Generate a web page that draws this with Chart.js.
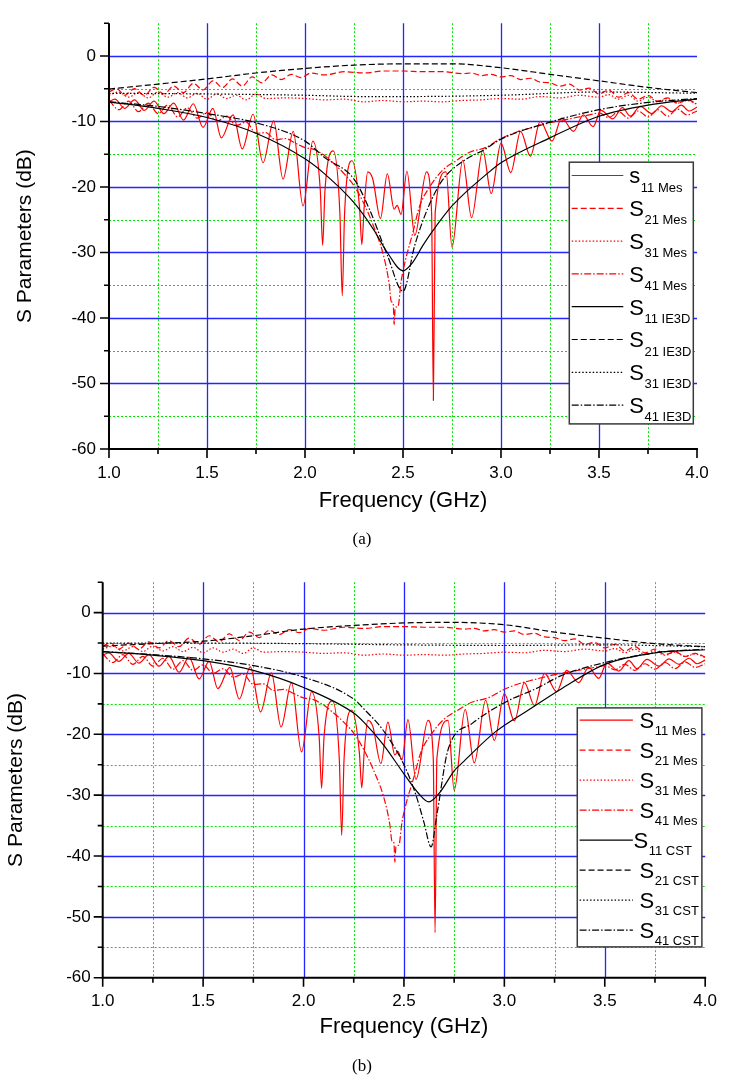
<!DOCTYPE html>
<html><head><meta charset="utf-8">
<script src="https://cdn.jsdelivr.net/npm/chart.js@4.4.1/dist/chart.umd.min.js"></script>
<style>
html,body{margin:0;padding:0;background:#fff;width:730px;height:1079px;overflow:hidden;position:relative}
canvas{position:absolute;left:0}
#cA{top:0}
#cB{top:560px}
.cap{position:absolute;font-family:'Liberation Serif','Times New Roman',serif;font-size:17px;color:#000;transform:translate(-50%,-50%);white-space:nowrap}
</style></head><body>
<canvas id="cA" width="730" height="560"></canvas>
<canvas id="cB" width="730" height="519"></canvas>
<div class="cap" style="left:362px;top:539px">(a)</div>
<div class="cap" style="left:362px;top:1066px">(b)</div>
<script>
const FONT = "'Liberation Sans', Arial, Helvetica, sans-serif";

// ---- axis ticks ----
const xTicks = [1.0, 1.5, 2.0, 2.5, 3.0, 3.5, 4.0];
const xMinorTicks = [1.25, 1.75, 2.25, 2.75, 3.25, 3.75];
const yTicks = [-60, -50, -40, -30, -20, -10, 0];
const yMinorTicks = [-55, -45, -35, -25, -15, -5, 5];

// ---- measured data [GHz, dB] ----
const s11Mes = [[1.00,-7.0],[1.03,-6.6],[1.08,-8.0],[1.13,-6.7],[1.18,-8.3],[1.23,-6.9],[1.28,-8.8],[1.33,-7.2],[1.38,-9.8],[1.43,-7.3],[1.48,-10.9],[1.53,-8.0],[1.573,-12.5],[1.633,-9.0],[1.68,-14.2],[1.735,-8.9],[1.786,-16.3],[1.84,-9.9],[1.888,-18.8],[1.94,-11.5],[1.99,-22.9],[2.04,-13.0],[2.078,-20.5],[2.09,-28.9],[2.102,-20.5],[2.144,-14.5],[2.178,-24.0],[2.19,-36.6],[2.202,-24.0],[2.24,-16.0],[2.278,-23.0],[2.29,-28.8],[2.302,-23.0],[2.32,-17.7],[2.345,-18.7],[2.385,-24.8],[2.42,-18.0],[2.455,-23.4],[2.47,-22.8],[2.49,-24.2],[2.52,-17.6],[2.56,-27.4],[2.62,-17.7],[2.646,-24.0],[2.655,-52.6],[2.664,-24.0],[2.72,-17.7],[2.75,-29.2],[2.805,-15.9],[2.85,-24.7],[2.907,-14.4],[2.95,-21.0],[3.00,-13.3],[3.05,-17.8],[3.10,-11.5],[3.15,-15.3],[3.20,-10.0],[3.26,-13.0],[3.31,-9.5],[3.37,-11.5],[3.42,-9.0],[3.47,-10.8],[3.51,-8.3],[3.57,-9.6],[3.62,-7.9],[3.66,-9.2],[3.71,-7.7],[3.77,-8.8],[3.82,-7.6],[3.87,-8.5],[3.92,-7.5],[3.96,-8.4],[4.00,-7.8]];
const s21Mes = [[1.00,-5.5],[1.04,-5.0],[1.08,-6.0],[1.13,-5.0],[1.18,-6.0],[1.23,-4.8],[1.28,-5.8],[1.33,-4.6],[1.38,-5.6],[1.43,-4.2],[1.48,-5.2],[1.53,-3.8],[1.58,-4.8],[1.63,-3.5],[1.68,-4.6],[1.73,-3.2],[1.78,-4.1],[1.83,-2.9],[1.88,-3.6],[1.93,-2.8],[1.98,-3.3],[2.03,-2.6],[2.10,-2.9],[2.20,-2.4],[2.30,-2.6],[2.40,-2.3],[2.50,-2.3],[2.60,-2.4],[2.70,-2.4],[2.80,-2.7],[2.85,-2.6],[2.90,-3.0],[2.95,-2.8],[3.00,-3.2],[3.05,-3.0],[3.10,-3.6],[3.15,-3.4],[3.20,-4.0],[3.25,-4.1],[3.30,-4.6],[3.35,-4.3],[3.40,-5.2],[3.45,-4.9],[3.50,-5.8],[3.55,-5.2],[3.60,-6.3],[3.65,-5.6],[3.70,-6.6],[3.75,-6.0],[3.80,-6.9],[3.85,-6.4],[3.90,-7.2],[3.95,-6.7],[4.00,-7.3]];
const s31Mes = [[1.00,-6.0],[1.05,-5.5],[1.10,-6.3],[1.15,-5.6],[1.20,-6.4],[1.25,-5.5],[1.30,-6.3],[1.35,-5.6],[1.40,-6.4],[1.45,-5.7],[1.50,-6.6],[1.55,-5.8],[1.60,-6.5],[1.65,-6.0],[1.70,-6.7],[1.75,-5.8],[1.80,-6.5],[1.90,-6.4],[2.00,-6.5],[2.10,-6.7],[2.20,-6.6],[2.30,-7.0],[2.40,-6.8],[2.50,-7.0],[2.60,-6.9],[2.70,-7.0],[2.80,-6.8],[2.90,-6.7],[3.00,-6.5],[3.10,-6.6],[3.20,-6.2],[3.30,-6.4],[3.40,-6.0],[3.50,-6.3],[3.55,-5.9],[3.60,-6.6],[3.65,-6.0],[3.70,-6.9],[3.75,-6.3],[3.80,-7.0],[3.85,-6.5],[3.90,-7.2],[3.95,-6.8],[4.00,-7.4]];
const s41Mes = [[1.00,-6.8],[1.05,-8.2],[1.10,-6.9],[1.15,-8.5],[1.20,-7.2],[1.25,-8.8],[1.30,-7.5],[1.35,-9.3],[1.40,-7.9],[1.45,-9.5],[1.50,-8.6],[1.55,-10.0],[1.60,-9.2],[1.65,-10.6],[1.70,-10.1],[1.75,-11.8],[1.80,-11.7],[1.85,-12.8],[1.90,-12.6],[1.95,-13.3],[2.00,-14.0],[2.05,-14.3],[2.10,-15.2],[2.15,-16.5],[2.20,-18.0],[2.25,-19.8],[2.30,-22.5],[2.35,-26.0],[2.40,-30.4],[2.43,-34.9],[2.44,-37.5],[2.45,-37.8],[2.455,-41.0],[2.46,-38.5],[2.475,-38.2],[2.49,-34.5],[2.51,-31.5],[2.55,-27.0],[2.585,-22.9],[2.636,-20.0],[2.70,-17.5],[2.77,-16.0],[2.84,-14.7],[2.92,-14.0],[3.00,-12.6],[3.08,-11.6],[3.15,-11.0],[3.25,-10.2],[3.35,-9.6],[3.45,-9.0],[3.50,-8.7],[3.55,-9.4],[3.60,-8.5],[3.65,-9.5],[3.70,-8.4],[3.75,-9.3],[3.80,-8.2],[3.85,-9.2],[3.90,-8.1],[3.95,-9.0],[4.00,-8.4]];

// ---- IE3D simulation (a) ----
const s11IE3D = [[1.00,-7.0],[1.25,-8.0],[1.50,-9.4],[1.75,-11.8],[2.00,-15.7],[2.10,-18.0],[2.25,-22.4],[2.35,-26.5],[2.42,-30.0],[2.50,-32.8],[2.55,-31.5],[2.60,-29.0],[2.64,-27.2],[2.75,-22.9],[2.94,-17.7],[3.00,-16.3],[3.25,-12.5],[3.50,-9.2],[3.75,-7.5],[4.00,-6.6]];
const s21IE3D = [[1.00,-5.05],[1.25,-4.3],[1.50,-3.5],[1.75,-2.6],[2.00,-1.9],[2.25,-1.4],[2.50,-1.2],[2.75,-1.2],[3.00,-1.8],[3.25,-2.8],[3.50,-3.8],[3.75,-4.8],[4.00,-5.6]];
const s31IE3D = [[1.00,-5.7],[1.50,-5.8],[2.00,-6.0],[2.30,-6.2],[2.50,-6.2],[3.00,-6.0],[3.50,-5.5],[4.00,-5.7]];
const s41IE3D = [[1.00,-7.0],[1.25,-7.7],[1.50,-8.8],[1.75,-10.2],[2.00,-13.0],[2.10,-15.5],[2.25,-18.8],[2.33,-23.5],[2.42,-30.4],[2.50,-35.9],[2.56,-28.9],[2.63,-23.0],[2.70,-19.0],[2.80,-16.2],[2.92,-14.2],[3.00,-12.7],[3.25,-10.1],[3.50,-8.2],[3.75,-7.1],[4.00,-6.5]];

// ---- CST simulation (b) ----
const s11CST = [[1.00,-6.4],[1.25,-7.0],[1.50,-7.9],[1.75,-9.5],[2.00,-12.3],[2.25,-16.5],[2.30,-18.0],[2.40,-21.8],[2.50,-26.5],[2.57,-29.6],[2.624,-31.1],[2.68,-29.5],[2.75,-26.0],[2.79,-24.7],[2.955,-19.6],[3.12,-16.0],[3.285,-12.5],[3.50,-8.5],[3.75,-6.6],[4.00,-6.1]];
const s21CST = [[1.00,-5.5],[1.25,-5.1],[1.50,-4.7],[1.75,-3.8],[2.00,-2.7],[2.25,-2.1],[2.50,-1.7],[2.75,-1.6],[3.00,-2.0],[3.25,-3.2],[3.50,-4.2],[3.75,-5.1],[4.00,-5.6]];
const s31CST = [[1.00,-5.0],[1.50,-5.0],[2.00,-5.1],[2.50,-5.3],[3.00,-5.4],[3.50,-5.3],[4.00,-5.6]];
const s41CST = [[1.00,-6.4],[1.25,-6.9],[1.50,-7.6],[1.75,-8.7],[2.00,-10.6],[2.25,-14.2],[2.30,-15.8],[2.40,-19.5],[2.50,-25.0],[2.56,-30.0],[2.60,-34.5],[2.635,-38.5],[2.665,-33.0],[2.72,-22.5],[2.84,-18.2],[3.00,-14.8],[3.17,-12.3],[3.28,-10.4],[3.50,-8.2],[3.75,-6.6],[4.00,-6.0]];

// ---- legend text ----
const legendMainA = ['s','S','S','S','S','S','S','S'];
const legendSubA = ['11 Mes','21 Mes','31 Mes','41 Mes','11 IE3D','21 IE3D','31 IE3D','41 IE3D'];
const legendMainB = ['S','S','S','S','S','S','S','S'];
const legendSubB = ['11 Mes','21 Mes','31 Mes','41 Mes','11 CST','21 CST','31 CST','41 CST'];

const DASH = { s11: [], s21: [6,3], s31: [1.5,2], s41: [7,2,1.5,2] };
const RED = '#ff0000', BLACK = '#000000';

function ds(pairs, color, dash, order) {
  return { data: pairs.map(p => ({x: p[0], y: p[1]})), borderColor: color, borderDash: dash,
    borderWidth: 1.2, pointRadius: 0, fill: false, cubicInterpolationMode: 'monotone', order: order };
}

const framePlugin = {
  id: 'sframe',
  beforeDatasetsDraw(chart, args, opts) {
    const {ctx, chartArea: a, scales: {x, y}} = chart;
    ctx.save();
    ctx.strokeStyle = '#00e600'; ctx.lineWidth = 1; ctx.setLineDash([2,2]);
    ctx.beginPath();
    xMinorTicks.forEach(v => { const p = Math.round(x.getPixelForValue(v)) + 0.5; ctx.moveTo(p, a.top); ctx.lineTo(p, a.bottom); });
    yMinorTicks.forEach(v => { if (v >= y.max || v <= y.min) return; const p = Math.round(y.getPixelForValue(v)) + 0.5; ctx.moveTo(a.left, p); ctx.lineTo(a.right, p); });
    ctx.stroke();
    ctx.setLineDash([]); ctx.strokeStyle = '#2525ff'; ctx.lineWidth = 1.3;
    ctx.beginPath();
    xTicks.forEach(v => { if (v <= x.min || v >= x.max) return; const p = Math.round(x.getPixelForValue(v)) + 0.5; ctx.moveTo(p, a.top); ctx.lineTo(p, a.bottom); });
    yTicks.forEach(v => { if (v <= y.min || v >= y.max) return; const p = Math.round(y.getPixelForValue(v)) + 0.5; ctx.moveTo(a.left, p); ctx.lineTo(a.right, p); });
    ctx.stroke();
    ctx.restore();
  },
  afterDatasetsDraw(chart, args, opts) {
    const {ctx, chartArea: a, scales: {x, y}} = chart;
    ctx.save();
    ctx.strokeStyle = '#000'; ctx.lineWidth = 2; ctx.setLineDash([]);
    ctx.beginPath();
    ctx.moveTo(a.left, a.top); ctx.lineTo(a.left, a.bottom + 1);
    ctx.moveTo(a.left - 1, a.bottom); ctx.lineTo(a.right + 1, a.bottom);
    ctx.stroke();
    ctx.lineWidth = 1.6;
    ctx.beginPath();
    yTicks.forEach(v => { const p = y.getPixelForValue(v); ctx.moveTo(a.left, p); ctx.lineTo(a.left - 9, p); });
    yMinorTicks.forEach(v => { const p = y.getPixelForValue(v); ctx.moveTo(a.left, p); ctx.lineTo(a.left - 5, p); });
    xTicks.forEach(v => { const p = x.getPixelForValue(v); ctx.moveTo(p, a.bottom); ctx.lineTo(p, a.bottom + 9); });
    xMinorTicks.forEach(v => { const p = x.getPixelForValue(v); ctx.moveTo(p, a.bottom); ctx.lineTo(p, a.bottom + 5); });
    ctx.stroke();

    // legend
    const L = opts.legend;
    const bx = a.right + L.dx, by = a.top + L.dy;
    ctx.fillStyle = '#fff'; ctx.fillRect(bx, by, L.w, L.h);
    ctx.strokeStyle = '#3a3a3a'; ctx.lineWidth = 1.5; ctx.strokeRect(bx, by, L.w, L.h);
    chart.data.datasets.forEach((d, i) => {
      const yy = by + L.row0 + i * L.rowGap;
      ctx.strokeStyle = d.borderColor; ctx.lineWidth = 1.2; ctx.setLineDash(d.borderDash);
      ctx.beginPath(); ctx.moveTo(bx + L.line0, yy); ctx.lineTo(bx + L.line1, yy); ctx.stroke();
      ctx.setLineDash([]);
      ctx.fillStyle = '#000'; ctx.textAlign = 'left'; ctx.textBaseline = 'alphabetic';
      ctx.font = L.mainSize + 'px ' + FONT;
      const tx = bx + (L.textX[i] !== undefined ? L.textX[i] : L.textX0);
      ctx.fillText(L.main[i], tx, yy + L.baseOff);
      const w = ctx.measureText(L.main[i]).width;
      ctx.font = L.subSize + 'px ' + FONT;
      ctx.fillText(L.sub[i], tx + w + 0.5, yy + L.subOff);
    });
    ctx.restore();
  }
};

function makeChart(id, sets, G) {
  return new Chart(document.getElementById(id), {
    type: 'line',
    data: { datasets: sets },
    options: {
      responsive: false, animation: false, events: [],
      layout: { padding: G.pad },
      plugins: { legend: { display: false }, tooltip: { enabled: false }, sframe: { legend: G.legend } },
      scales: {
        x: { type: 'linear', min: 1, max: 4,
          afterBuildTicks: s => { s.ticks = xTicks.map(v => ({value: v})); },
          afterFit: s => { s.height = G.xHeight; },
          grid: { display: false, drawTicks: false }, border: { display: false },
          ticks: { padding: G.xPad, color: '#000', font: { family: FONT, size: G.tickSize }, maxRotation: 0, autoSkip: false, callback: v => Number(v).toFixed(1) },
          title: { display: true, text: 'Frequency (GHz)', color: '#000', font: { family: FONT, size: 22 }, padding: { top: 0, bottom: G.xTitlePad } }
        },
        y: { type: 'linear', min: -60, max: 5,
          afterBuildTicks: s => { s.ticks = yTicks.map(v => ({value: v})); },
          afterFit: s => { s.width = G.yWidth; },
          grid: { display: false, drawTicks: false }, border: { display: false },
          ticks: { padding: G.yPad, color: '#000', font: { family: FONT, size: G.tickSize }, autoSkip: false, callback: v => String(v) },
          title: { display: true, text: 'S Parameters (dB)', color: '#000', font: { family: FONT, size: 21 }, padding: { top: G.yTitlePad, bottom: 0 } }
        }
      }
    },
    plugins: [framePlugin]
  });
}

const setsA = [
  ds(s11Mes, RED, DASH.s11, 2), ds(s21Mes, RED, DASH.s21, 2), ds(s31Mes, RED, DASH.s31, 2), ds(s41Mes, RED, DASH.s41, 2),
  ds(s11IE3D, BLACK, DASH.s11, 1), ds(s21IE3D, BLACK, DASH.s21, 1), ds(s31IE3D, BLACK, DASH.s31, 1), ds(s41IE3D, BLACK, DASH.s41, 1)
];
const setsB = [
  ds(s11Mes, RED, DASH.s11, 2), ds(s21Mes, RED, DASH.s21, 2), ds(s31Mes, RED, DASH.s31, 2), ds(s41Mes, RED, DASH.s41, 2),
  ds(s11CST, BLACK, DASH.s11, 1), ds(s21CST, BLACK, DASH.s21, 1), ds(s31CST, BLACK, DASH.s31, 1), ds(s41CST, BLACK, DASH.s41, 1)
];

makeChart('cA', setsA, {
  pad: { left: 0, right: 33, top: 12, bottom: 40 },
  xHeight: 71, yWidth: 109, xPad: 14, yPad: 13, tickSize: 17, xTitlePad: 5.8, yTitlePad: 13,
  legend: { dx: -127.7, dy: 139, w: 124, h: 261.7, row0: 13.3, rowGap: 32.8, line0: 2.4, line1: 54,
    textX0: 60, textX: [], main: legendMainA, sub: legendSubA, mainSize: 22, subSize: 13, baseOff: 7.8, subOff: 16 }
});
makeChart('cB', setsB, {
  pad: { left: 0, right: 19.4, top: 17, bottom: 35 },
  xHeight: 66.3, yWidth: 102.7, xPad: 13, yPad: 12, tickSize: 17, xTitlePad: 3.8, yTitlePad: 3.4,
  legend: { dx: -127.9, dy: 125.7, w: 124.6, h: 239, row0: 12.3, rowGap: 30, line0: 2.3, line1: 55.6,
    textX0: 62.3, textX: [undefined, undefined, undefined, undefined, 56.3], main: legendMainB, sub: legendSubB, mainSize: 22, subSize: 13, baseOff: 7.5, subOff: 15 }
});
</script>
</body></html>
